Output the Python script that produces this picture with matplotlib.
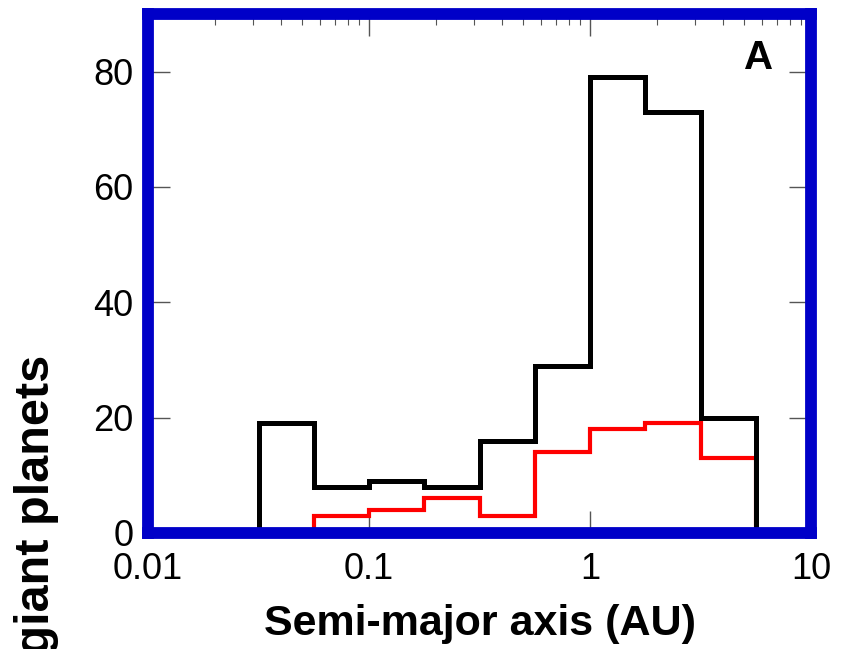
import numpy as np
import matplotlib
matplotlib.use("Agg")
import matplotlib.pyplot as plt
from matplotlib.ticker import LogLocator, NullFormatter, FixedLocator

plt.rcParams['font.family'] = ['Liberation Sans', 'DejaVu Sans']

# bin edges in log10(a / AU), 0.25 dex wide, padded out to the axis limits
log_edges = [-1.5, -1.25, -1.0, -0.75, -0.5, -0.25, 0.0, 0.25, 0.5, 0.75]
all_planets = [19, 8, 9, 8, 16, 29, 79, 73, 20]
subset_planets = [0, 3, 4, 6, 3, 14, 18, 19, 13]

x_min, x_max = 0.01, 10
y_max = 90
y_ticks = [0, 20, 40, 60, 80]
x_ticks = [0.01, 0.1, 1, 10]
x_tick_labels = ["0.01", "0.1", "1", "10"]

edges = np.concatenate([[x_min], 10.0 ** np.array(log_edges), [x_max]])
black_vals = np.concatenate([[0], all_planets, [0]])
red_vals = np.concatenate([[0], subset_planets, [0]])

fig = plt.figure(figsize=(8.51, 6.49), dpi=100)
ax = fig.add_axes([148 / 851, 1 - 533 / 649, 663 / 851, 519 / 649])

ax.stairs(red_vals, edges, baseline=None, fill=False, color='#ff0000',
          linewidth=3.0, joinstyle='miter', zorder=2)
ax.stairs(black_vals, edges, baseline=None, fill=False, color='black',
          linewidth=3.6, joinstyle='miter', zorder=3)

ax.set_xscale('log')
ax.set_xlim(x_min, x_max)
ax.set_ylim(0, y_max)

ax.xaxis.set_major_locator(FixedLocator(x_ticks))
ax.set_xticklabels(x_tick_labels)
ax.xaxis.set_minor_locator(LogLocator(base=10, subs=np.arange(2, 10)))
ax.xaxis.set_minor_formatter(NullFormatter())
ax.set_yticks(y_ticks)

ax.tick_params(axis='both', which='major', direction='in', length=15.5, width=1.0,
               color='#555555', labelsize=26, top=True, right=True)
ax.tick_params(axis='y', which='major', pad=10.5)
ax.tick_params(axis='x', which='major', pad=14)
ax.tick_params(axis='x', which='minor', direction='in', length=8, width=0.8,
               color='#555555', top=True, bottom=False)

for side in ['left', 'right', 'top', 'bottom']:
    ax.spines[side].set_color('#0000c8')
    ax.spines[side].set_linewidth(8.5)
    ax.spines[side].set_zorder(4)

ax.set_xlabel("Semi-major axis (AU)", fontsize=31, fontweight='bold', labelpad=12)
fig.text(49 / 851, 1 - 355 / 649, "Number of giant planets", rotation=90,
         rotation_mode='anchor', ha='right', va='baseline', fontsize=35,
         fontweight='bold')

ax.text(0.9216, 0.894, "A", transform=ax.transAxes, fontsize=29, fontweight='bold',
        ha='center', va='baseline')

fig.savefig("out.png", dpi=100)
